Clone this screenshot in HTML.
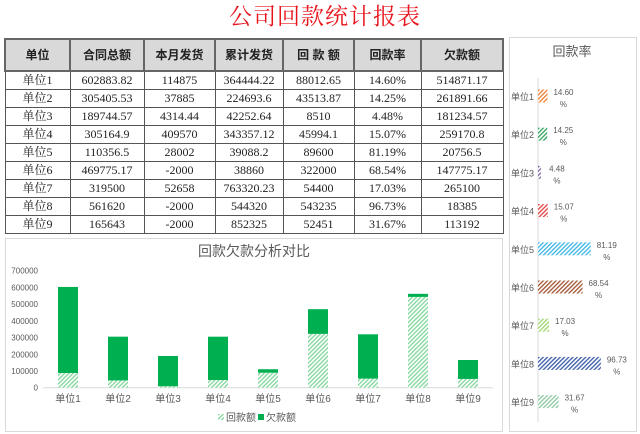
<!DOCTYPE html>
<html><head><meta charset="utf-8">
<style>
body{margin:0;width:640px;height:434px;background:#fff;position:relative;overflow:hidden;font-family:"Liberation Serif","Noto Serif CJK SC",serif;}
#title{position:absolute;left:200px;top:0;width:250px;text-align:center;font-size:23px;color:#e8141c;font-family:"Liberation Serif","Noto Serif CJK SC",serif;line-height:34px;letter-spacing:1px}
table{position:absolute;left:4px;top:38px;border-collapse:collapse;font-size:12px;color:#222}
td,th{border:1px solid #555;text-align:center;padding:0;height:17px;line-height:17px}
th{background:#d9d9d9;height:30px;font-weight:bold;font-size:12px;font-family:"Liberation Sans","Noto Sans CJK SC",sans-serif;border:2px solid #666}
svg{position:absolute;left:0;top:0}
</style></head><body>
<div id="title">公司回款统计报表</div>
<table>
<colgroup><col style="width:65px"><col style="width:74px"><col style="width:71px"><col style="width:68px"><col style="width:71px"><col style="width:67px"><col style="width:82px"></colgroup>
<tr><th>单位</th><th>合同总额</th><th>本月发货</th><th>累计发货</th><th>回 款 额</th><th>回款率</th><th>欠款额</th></tr>
<tr><td>单位1</td><td>602883.82</td><td>114875</td><td>364444.22</td><td>88012.65</td><td>14.60%</td><td>514871.17</td></tr>
<tr><td>单位2</td><td>305405.53</td><td>37885</td><td>224693.6</td><td>43513.87</td><td>14.25%</td><td>261891.66</td></tr>
<tr><td>单位3</td><td>189744.57</td><td>4314.44</td><td>42252.64</td><td>8510</td><td>4.48%</td><td>181234.57</td></tr>
<tr><td>单位4</td><td>305164.9</td><td>409570</td><td>343357.12</td><td>45994.1</td><td>15.07%</td><td>259170.8</td></tr>
<tr><td>单位5</td><td>110356.5</td><td>28002</td><td>39088.2</td><td>89600</td><td>81.19%</td><td>20756.5</td></tr>
<tr><td>单位6</td><td>469775.17</td><td>-2000</td><td>38860</td><td>322000</td><td>68.54%</td><td>147775.17</td></tr>
<tr><td>单位7</td><td>319500</td><td>52658</td><td>763320.23</td><td>54400</td><td>17.03%</td><td>265100</td></tr>
<tr><td>单位8</td><td>561620</td><td>-2000</td><td>544320</td><td>543235</td><td>96.73%</td><td>18385</td></tr>
<tr><td>单位9</td><td>165643</td><td>-2000</td><td>852325</td><td>52451</td><td>31.67%</td><td>113192</td></tr>
</table>
<svg id="chart" width="640" height="434" font-family="'Liberation Sans','Noto Sans CJK SC',sans-serif"></svg>
<script>
const categories=["单位1","单位2","单位3","单位4","单位5","单位6","单位7","单位8","单位9"];
const paid=[88012.65,43513.87,8510,45994.1,89600,322000,54400,543235,52451];
const owed=[514871.17,261891.66,181234.57,259170.8,20756.5,147775.17,265100,18385,113192];
const rates=[14.60,14.25,4.48,15.07,81.19,68.54,17.03,96.73,31.67];
const rateLabels=["14.60","14.25","4.48","15.07","81.19","68.54","17.03","96.73","31.67"];
const yTicks=[0,100000,200000,300000,400000,500000,600000,700000];
const rateColors=["#ed7d31","#2ca05a","#8064a2","#e04040","#3cb4e6","#a0522d","#9bd46a","#3a5aa8","#8cc8a0"];
const NS="http://www.w3.org/2000/svg";
const svg=document.getElementById('chart');
function el(t,a,p){const e=document.createElementNS(NS,t);for(const k in a)e.setAttribute(k,a[k]);(p||svg).appendChild(e);return e;}
const defs=el('defs',{});
function pat(id,color){const p=el('pattern',{id:id,width:3,height:3,patternUnits:'userSpaceOnUse',patternTransform:'rotate(45)'},defs);el('rect',{width:3,height:3,fill:'#fff'},p);el('rect',{width:1.3,height:3,fill:color},p);}
pat('hatchG','#7fd69a');
rateColors.forEach((c,i)=>pat('hr'+i,c));
const b1=el('rect',{x:5.5,y:238.5,width:497,height:193,fill:'none',stroke:'#d9d9d9'});

let t=el('text',{x:254,y:256,'text-anchor':'middle','font-size':14,fill:'#595959'});t.textContent='回款欠款分析对比';

const y0=387.7,yTop=270.7,yMax=700000;
const Y=v=>y0-(v/yMax)*(y0-yTop);
const X=i=>68+i*50;
yTicks.forEach(v=>{const tx=el('text',{x:38,y:Y(v)+3,'text-anchor':'end','font-size':8,fill:'#595959'});tx.textContent=v;
});
el('line',{x1:43,x2:493,y1:y0,y2:y0,stroke:'#d9d9d9'});
categories.forEach((c,i)=>{
 const r1=el('rect',{x:X(i)-10,y:Y(paid[i]),width:20,height:y0-Y(paid[i]),fill:'url(#hatchG)'});
 
 const r2=el('rect',{x:X(i)-10,y:Y(paid[i]+owed[i]),width:20,height:Y(paid[i])-Y(paid[i]+owed[i]),fill:'#00b050'});
 
 const l=el('text',{x:X(i),y:402,'text-anchor':'middle','font-size':10,fill:'#595959'});l.textContent=c;
 
});
let lg=el('rect',{x:218,y:414,width:6,height:6,fill:'url(#hatchG)'});

t=el('text',{x:226,y:421,'font-size':10,fill:'#595959'});t.textContent='回款额';

lg=el('rect',{x:258,y:414,width:6,height:6,fill:'#00b050'});

t=el('text',{x:266,y:421,'font-size':10,fill:'#595959'});t.textContent='欠款额';

const b2=el('rect',{x:509.5,y:37.5,width:127,height:394,fill:'none',stroke:'#d9d9d9'});

t=el('text',{x:572,y:56,'text-anchor':'middle','font-size':13,fill:'#595959'});t.textContent='回款率';

const ax=538,RX=v=>ax+v*0.65,RY=i=>96+i*38.2;
el('line',{x1:ax,x2:ax,y1:78,y2:422,stroke:'#d9d9d9'});
categories.forEach((c,i)=>{
 const r=el('rect',{x:ax,y:RY(i)-6.5,width:RX(rates[i])-ax,height:13,fill:'url(#hr'+i+')'});
 
 const l=el('text',{x:534,y:RY(i)+4,'text-anchor':'end','font-size':9,fill:'#595959'});l.textContent=c;
 
 const v=el('text',{x:RX(rates[i])+16,y:RY(i)-1,'text-anchor':'middle','font-size':8,fill:'#595959'});v.textContent=rateLabels[i];
 
 const p=el('text',{x:RX(rates[i])+16,y:RY(i)+11,'text-anchor':'middle','font-size':8,fill:'#595959'});p.textContent='%';
 
});
</script>
</body></html>
